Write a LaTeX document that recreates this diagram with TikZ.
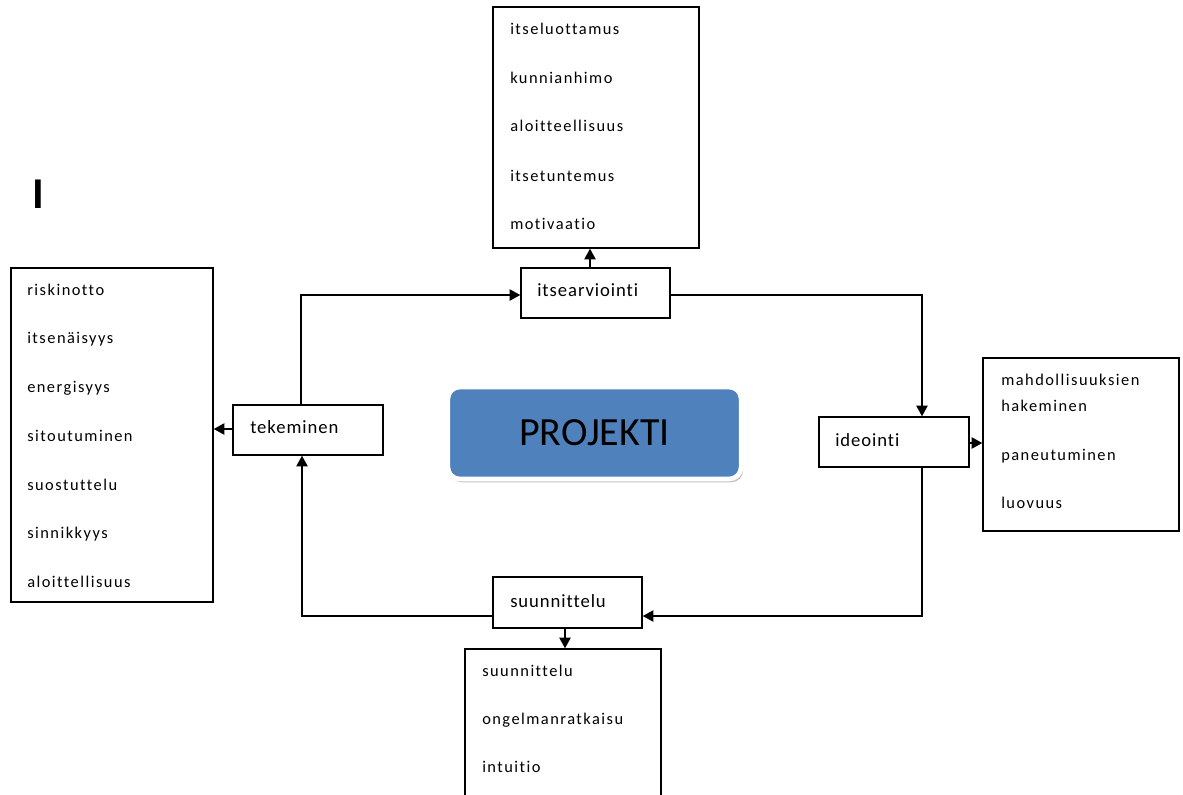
\documentclass[tikz,border=0pt]{standalone}
\usepackage{fontspec}
\setmainfont{Carlito}
\newfontfamily\spacedfont{Carlito}[LetterSpace=9,Ligatures=NoCommon]
\newfontfamily\labelfont{Carlito}[LetterSpace=5,Ligatures=NoCommon]
\usetikzlibrary{arrows.meta,fit,shadows}
\definecolor{projblue}{HTML}{4F81BD}
\begin{document}
\begin{tikzpicture}[x=0.75pt,y=-0.75pt,
  listbox/.style={draw, line width=1.1pt, inner sep=0pt},
  stepbox/.style={draw, line width=1.1pt, inner sep=0pt},
  item/.style={anchor=base west, inner sep=0pt, font=\spacedfont\fontsize{12.3}{14}\selectfont},
  lbl/.style={anchor=base west, inner sep=0pt, font=\labelfont\fontsize{14}{16}\selectfont},
  conn/.style={line width=1.1pt, -{Triangle[width=8.5pt,length=8pt]}},
  proj/.style={draw=white, line width=3.5pt, fill=projblue, rounded corners=9pt,
    minimum width=220pt, minimum height=69pt, inner sep=0pt,
    font=\fontsize{30}{34}\selectfont,
    drop shadow={shadow xshift=1.5pt, shadow yshift=-2.5pt, fill=black!30, opacity=0.8}}
]
\useasboundingbox (0,0) rectangle (1183,794);
\clip (0,0) rectangle (1183,794);

% stray letter
\node[anchor=base, inner sep=0pt, font=\bfseries\fontsize{33}{36}\selectfont] (cur) at (38,208) {I};

% central box
\node[proj] (proj) at (594.5,433) {PROJEKTI};

% step boxes
\node[stepbox, fit={(521,268) (670,318)}] (ites) {};
\node[lbl] (itesl) at (537,296) {itsearviointi};
\node[stepbox, fit={(233,405) (383,455)}] (tek) {};
\node[lbl] (tekl) at (250,433) {tekeminen};
\node[stepbox, fit={(819,417) (969,467)}] (ide) {};
\node[lbl] (idel) at (835,446) {ideointi};
\node[stepbox, fit={(493,577) (642,628)}] (suun) {};
\node[lbl] (suunl) at (510,607) {suunnittelu};

% list boxes
\node[listbox, fit={(493,7) (699,248)}] (topbox) {};
\node[item] (t1) at (510,34) {itseluottamus};
\node[item] (t2) at (510,83) {kunnianhimo};
\node[item] (t3) at (510,131) {aloitteellisuus};
\node[item] (t4) at (510,181) {itsetuntemus};
\node[item] (t5) at (510,229) {motivaatio};

\node[listbox, fit={(11,268) (213,602)}] (leftbox) {};
\node[item] (l1) at (27,295) {riskinotto};
\node[item] (l2) at (27,343) {itsenäisyys};
\node[item] (l3) at (27,392) {energisyys};
\node[item] (l4) at (27,441) {sitoutuminen};
\node[item] (l5) at (27,490) {suostuttelu};
\node[item] (l6) at (27,538) {sinnikkyys};
\node[item] (l7) at (27,587) {aloittellisuus};

\node[listbox, fit={(983,358) (1179,531)}] (rightbox) {};
\node[item] (r1) at (1001,385) {mahdollisuuksien};
\node[item] (r2) at (1001,411) {hakeminen};
\node[item] (r3) at (1001,460) {paneutuminen};
\node[item] (r4) at (1001,508) {luovuus};

\node[listbox, fit={(465,649) (661,815)}] (botbox) {};
\node[item] (b1) at (482,676) {suunnittelu};
\node[item] (b2) at (482,724) {ongelmanratkaisu};
\node[item] (b3) at (482,772) {intuitio};

% helper coordinates
\coordinate (cL) at (301,295);
\coordinate (cR) at (922,295);
\coordinate (cB) at (922,616);
\coordinate (cBL) at (302,616);
\coordinate (cTop) at (590,0);
\coordinate (cSu) at (565,0);
\coordinate (cIde) at (0,443);
\coordinate (cTek) at (0,429);

% connectors
\draw[conn] (ites.north -| cTop) -- (topbox.south -| cTop);
\draw[conn] (tek.north -| cL) |- (ites.west |- cL);
\draw[conn] (ites.east |- cR) -| (ide.north -| cR);
\draw[conn] (ide.east |- cIde) -- (rightbox.west |- cIde);
\draw[conn] (ide.south -| cB) |- (suun.east |- cB);
\draw[conn] (suun.south -| cSu) -- (botbox.north -| cSu);
\draw[conn] (suun.west |- cBL) -| (tek.south -| cBL);
\draw[conn] (tek.west |- cTek) -- (leftbox.east |- cTek);
\end{tikzpicture}
\end{document}
